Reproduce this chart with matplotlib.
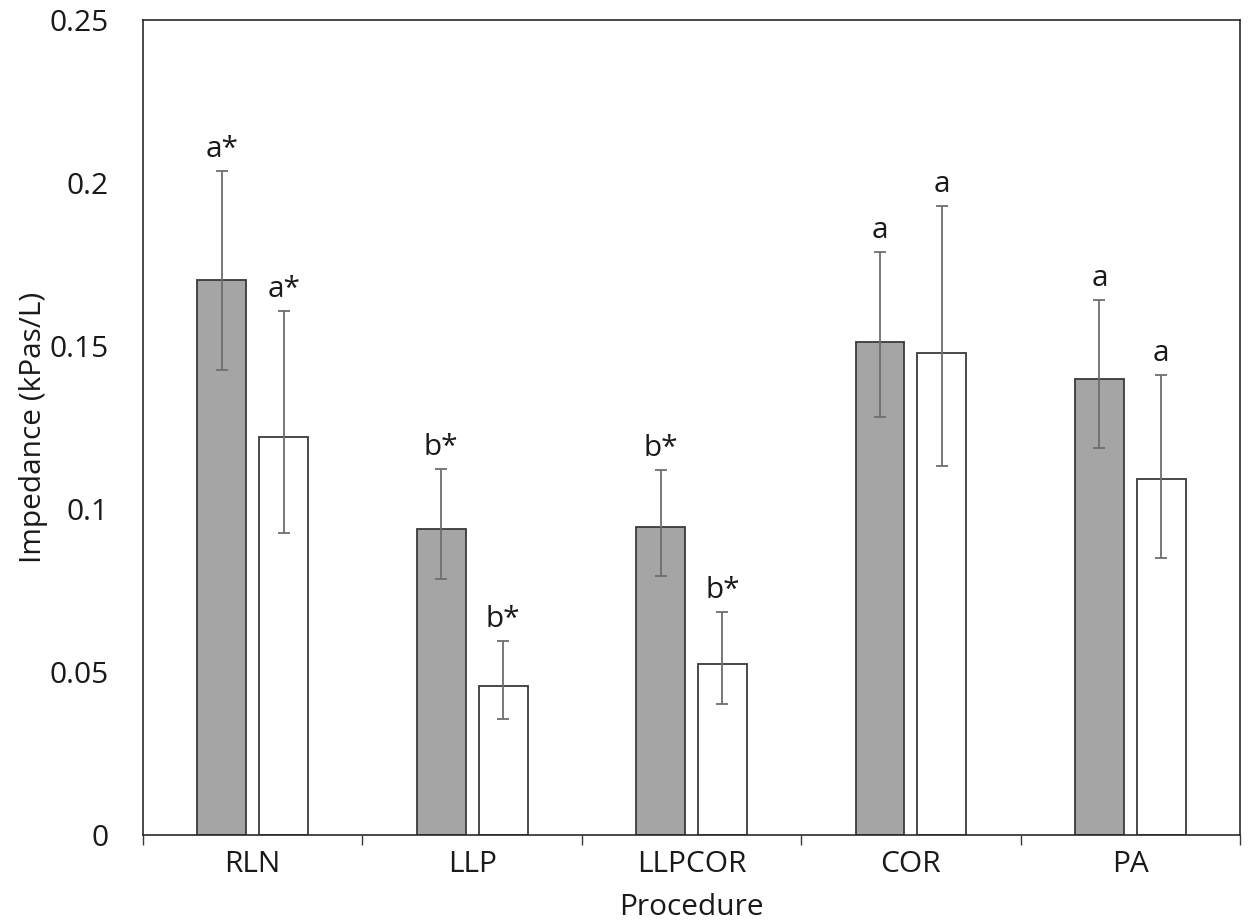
import numpy as np
import matplotlib.pyplot as plt
from matplotlib.ticker import FixedLocator

plt.rcParams['font.family'] = ['Open Sans', 'DejaVu Sans']

procedures = ['RLN', 'LLP', 'LLPCOR', 'COR', 'PA']

# grey bars (first group) with lower / upper error bar ends
grey_mean = [0.1702, 0.0938, 0.0944, 0.1512, 0.1398]
grey_low = [0.1426, 0.0785, 0.0794, 0.1282, 0.1188]
grey_high = [0.2037, 0.1123, 0.1121, 0.1788, 0.1641]
grey_letters = ['a*', 'b*', 'b*', 'a', 'a']

# white bars (second group)
white_mean = [0.1221, 0.0457, 0.0524, 0.1479, 0.1091]
white_low = [0.0926, 0.0355, 0.0403, 0.1132, 0.0850]
white_high = [0.1607, 0.0595, 0.0683, 0.1929, 0.1410]
white_letters = ['a*', 'b*', 'b*', 'a', 'a']

FS = 21.5

fig = plt.figure(figsize=(12.48, 9.24), dpi=100)
ax = fig.add_axes([0.1146, 0.0963, 0.879, 0.8821])

x = np.arange(len(procedures))
width = 0.223
off = 0.141


def draw_group(pos, mean, low, high, color, letters):
    mean = np.array(mean)
    yerr = [mean - np.array(low), np.array(high) - mean]
    ax.bar(pos, mean, width, color=color, edgecolor='#3a3a3a', linewidth=1.3, zorder=2)
    ax.errorbar(pos, mean, yerr=yerr, fmt='none', ecolor='#6e6e6e',
                elinewidth=1.3, capsize=4, capthick=1.3, zorder=3)
    for xi, top, lab in zip(pos, high, letters):
        ax.annotate(lab, (xi, top), xytext=(0, 10), textcoords='offset points',
                    ha='center', va='baseline', fontsize=FS, color='#1a1a1a')


draw_group(x - off, grey_mean, grey_low, grey_high, '#a5a5a5', grey_letters)
draw_group(x + off, white_mean, white_low, white_high, 'white', white_letters)

ax.set_xlim(-0.5, len(procedures) - 0.5)
ax.set_ylim(0, 0.25)
ax.set_yticks([0, 0.05, 0.1, 0.15, 0.2, 0.25])
ax.set_yticklabels(['0', '0.05', '0.1', '0.15', '0.2', '0.25'])
ax.set_xticks(x)
ax.set_xticklabels(procedures)
ax.xaxis.set_minor_locator(FixedLocator(np.arange(-0.5, len(procedures), 1.0)))

ax.tick_params(axis='y', length=0, pad=25, labelsize=FS, labelcolor='#1a1a1a')
ax.tick_params(axis='x', which='major', length=0, pad=11, labelsize=FS, labelcolor='#1a1a1a')
ax.tick_params(axis='x', which='minor', length=7, width=1, color='#3a3a3a', direction='out')

for s in ax.spines.values():
    s.set_linewidth(1.2)
    s.set_color('#2a2a2a')

ax.set_xlabel('Procedure', fontsize=FS, color='#1a1a1a', labelpad=10)
ax.set_ylabel('Impedance (kPas/L)', fontsize=FS, color='#1a1a1a', labelpad=1)

fig.savefig('out.png', dpi=100)
